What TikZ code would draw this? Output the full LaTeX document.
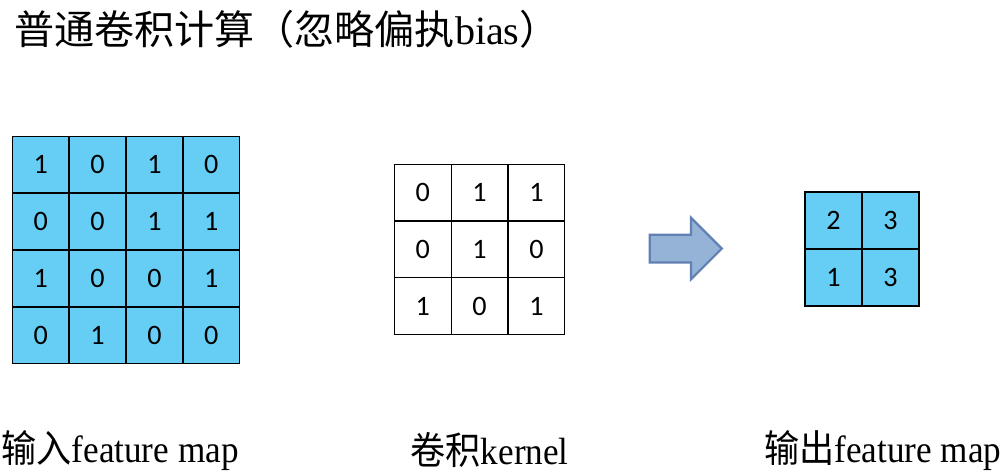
\documentclass[tikz,border=0pt]{standalone}
\usepackage{fontspec}
\setmainfont{Liberation Serif}
\newfontfamily\cjk{Noto Sans CJK SC}
\newfontfamily\cellfont{Carlito}
\usepackage{xcolor}
\usetikzlibrary{positioning, matrix, shapes.arrows}
\definecolor{cellblue}{RGB}{102,206,245}
\definecolor{arrowfill}{RGB}{149,179,215}
\definecolor{arrowline}{RGB}{98,128,178}
\tikzset{
    grid/.style={
        matrix of nodes,
        nodes={
            draw=black,
            line width=1.2pt,
            minimum size=1.42cm,
            anchor=center,
            fill=cellblue,
            font=\cellfont\fontsize{20}{20}\selectfont
        },
        line width=1.2pt,
        column sep=-\pgflinewidth,
        row sep=-\pgflinewidth,
        inner sep=0pt
    },
    kgrid/.style={grid, line width=0.9pt, nodes={fill=white, line width=0.9pt}},
    caption/.style={font=\fontsize{25}{29}\selectfont, inner sep=0pt, yscale=1.08},
    convArrow/.style={single arrow, draw=arrowline, line width=1.6pt, fill=arrowfill,
        minimum height=1.8cm, minimum width=1.48cm, single arrow head extend=0.42cm,
        inner xsep=0pt, inner ysep=0.32cm}
}
\begin{document}
\begin{tikzpicture}
    \useasboundingbox (0,0) rectangle (25.075,11.875);
    % Title
    \node[anchor=west, inner sep=0pt, font=\fontsize{28.5}{32}\selectfont] (Title) at (0.35,11.15)
        {{\cjk 普通卷积计算（忽略偏执}bias{\cjk ）}};

    % Input feature map
    \matrix[grid] (Input) at (3.15,5.625) {
        1 & 0 & 1 & 0 \\
        0 & 0 & 1 & 1 \\
        1 & 0 & 0 & 1 \\
        0 & 1 & 0 & 0 \\
    };

    % Kernel
    \matrix[kgrid] (Kernel) at (11.99,5.64) {
        0 & 1 & 1 \\
        0 & 1 & 0 \\
        1 & 0 & 1 \\
    };

    % Arrow
    \node[convArrow] (Conv) at (16.97,5.66) {};

    % Output feature map
    \matrix[grid] (Output) at (21.55,5.65) {
        2 & 3 \\
        1 & 3 \\
    };

    % Captions
    \node[caption] (InLabel) at (3.0,0.62) {{\cjk 输入}feature map};
    \node[caption] (KLabel) at (12.24,0.62) {{\cjk 卷积}kernel};
    \node[caption] (OutLabel) at (22.07,0.62) {{\cjk 输出}feature map};
\end{tikzpicture}
\end{document}
